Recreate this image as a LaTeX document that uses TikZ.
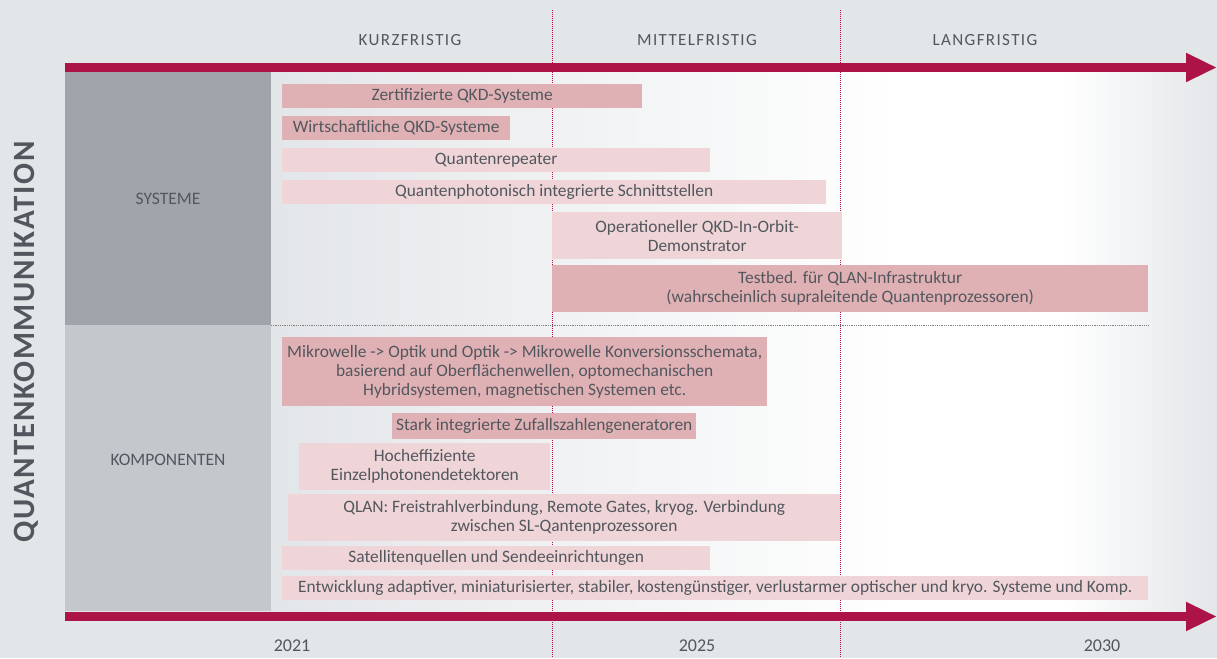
\documentclass[tikz,border=0pt]{standalone}
\usepackage{fontspec}
\setmainfont{Carlito}
\usetikzlibrary{arrows.meta}
\definecolor{bg}{HTML}{E3E6E9}
\definecolor{txt}{HTML}{52575E}
\definecolor{zred}{HTML}{AC1347}
\definecolor{pinkD}{HTML}{E0B1B4}
\definecolor{pinkL}{HTML}{EFD5D7}
\definecolor{sysgray}{HTML}{A1A5AB}
\definecolor{kompgray}{HTML}{C4C7CB}
\begin{document}
\begin{tikzpicture}[x=1pt,y=-1pt,
    bar/.style={inner sep=0pt,text=txt,align=center,anchor=north west,font=\fontsize{17.4}{19}\selectfont},
    darkbar/.style={bar,fill=pinkD},
    lightbar/.style={bar,fill=pinkL},
    timearrow/.style={line width=9pt,zred,-{Triangle[length=31pt,width=27pt]}},
    phase/.style={text=txt,font=\fontsize{17}{17}\selectfont\addfontfeature{LetterSpace=8}},
    year/.style={text=txt,font=\fontsize{18}{18}\selectfont},
    rowlabel/.style={text=txt,font=\fontsize{17.5}{17.5}\selectfont}]
\useasboundingbox (0,0) rectangle (1217,658);
% background
\fill[bg] (0,0) rectangle (1217,658);
\shade[left color=bg,right color=white] (271,72) rectangle (900,612);
\fill[white] (900,72) rectangle (1060,612);
\shade[left color=white,right color=bg] (1060,72) rectangle (1217,612);
% rows
\fill[sysgray] (65,72) rectangle (271,325);
\fill[kompgray] (65,325) rectangle (271,611);
\node[rowlabel] (sys) at (168,199) {SYSTEME};
\node[rowlabel] (komp) at (168,460) {KOMPONENTEN};
\node[rotate=90,text=txt,font=\bfseries\fontsize{31}{31}\selectfont\addfontfeature{LetterSpace=5.5}] (title) at (26,342) {QUANTENKOMMUNIKATION};
% phase borders
\draw[zred,densely dotted,line width=1pt] (552,10) -- (552,658);
\draw[zred,densely dotted,line width=1pt] (840,10) -- (840,658);
\draw[gray,densely dotted,line width=0.8pt] (271,325) -- (1148,325);
% phases and years
\node[phase] (kurz) at (410,40) {KURZFRISTIG};
\node[phase] (mittel) at (697,40) {MITTELFRISTIG};
\node[phase] (lang) at (985,40) {LANGFRISTIG};
\node[year] (y21) at (292,646) {2021};
\node[year] (y25) at (697,646) {2025};
\node[year] (y30) at (1102,646) {2030};
% time axes
\coordinate (top0) at (65,67.5);
\coordinate (top1) at (1217,67.5);
\coordinate (bot0) at (65,616.5);
\coordinate (bot1) at (1217,616.5);
\draw[timearrow] (top0) -- (top1);
\draw[timearrow] (bot0) -- (bot1);
% systeme
\node[darkbar,minimum width=360pt,minimum height=24pt] (zert) at (282,84) {Zertifizierte QKD-Systeme};
\node[darkbar,minimum width=228pt,minimum height=24pt] (wirt) at (282,116) {Wirtschaftliche QKD-Systeme};
\node[lightbar,minimum width=428pt,minimum height=24pt] (rep) at (282,148) {Quantenrepeater};
\node[lightbar,minimum width=544pt,minimum height=24pt] (photon) at (282,180) {Quantenphotonisch integrierte Schnittstellen};
\node[lightbar,minimum width=290pt,minimum height=47pt] (orbit) at (552,212) {Operationeller QKD-In-Orbit-\\Demonstrator};
\node[darkbar,minimum width=596pt,minimum height=47pt] (qlanbed) at (552,265) {Testbed. für QLAN-Infrastruktur\\(wahrscheinlich supraleitende Quantenprozessoren)};
% komponenten
\node[darkbar,minimum width=485pt,minimum height=69pt] (mikro) at (282,337) {Mikrowelle -> Optik und Optik -> Mikrowelle Konversionsschemata,\\basierend auf Oberflächenwellen, optomechanischen\\Hybridsystemen, magnetischen Systemen etc.};
\node[darkbar,minimum width=304pt,minimum height=26pt] (zufall) at (392,413) {Stark integrierte Zufallszahlengeneratoren};
\node[lightbar,minimum width=251pt,minimum height=47pt] (detekt) at (299,443) {Hocheffiziente\\Einzelphotonendetektoren};
\node[lightbar,minimum width=552pt,minimum height=47pt] (qlan) at (288,494) {QLAN: Freistrahlverbindung, Remote Gates, kryog. Verbindung\\zwischen SL-Qantenprozessoren};
\node[lightbar,minimum width=428pt,minimum height=24pt] (sat) at (282,546) {Satellitenquellen und Sendeeinrichtungen};
\node[lightbar,minimum width=866pt,minimum height=24pt] (entw) at (282,576) {Entwicklung adaptiver, miniaturisierter, stabiler, kostengünstiger, verlustarmer optischer und kryo. Systeme und Komp.};
\end{tikzpicture}
\end{document}
